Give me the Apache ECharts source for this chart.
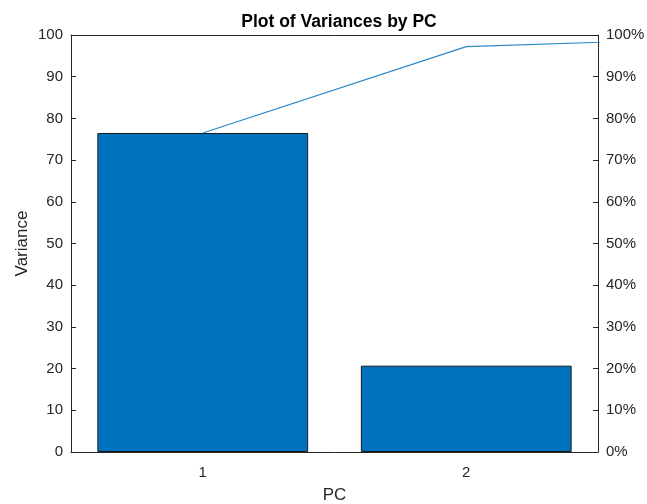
<!DOCTYPE html>
<html>
<head>
<meta charset="utf-8">
<script src="https://cdn.jsdelivr.net/npm/echarts@6/dist/echarts.min.js"></script>
<style>html,body{margin:0;padding:0;background:#fff}#c{width:647px;height:504px}</style>
</head>
<body>
<div id="c"></div>
<script>
// Principal components and their explained variance (%)
const pcLabels = ['1', '2'];
const variance = [76.5, 20.7];
// Cumulative explained variance (%) per component, the third continues past the axis edge
const cumulativePc = [1, 2, 3];
const cumulative = [76.5, 97.2, 99.3];
const leftTicks = [0, 100, 10];

const ink = '#262626';
const font = 'Liberation Sans, Arial, Helvetica, sans-serif';

const chart = echarts.init(document.getElementById('c'), null, { renderer: 'canvas' });
chart.setOption({
  backgroundColor: '#fff',
  animation: false,
  title: {
    text: 'Plot of Variances by PC',
    left: 334, top: 8, textAlign: 'center',
    textStyle: { fontFamily: font, fontSize: 17.5, fontWeight: 'bold', color: '#000' }
  },
  grid: { left: 71, right: 49, top: 35, bottom: 52, containLabel: false, outerBoundsMode: 'none' },
  xAxis: [
    {
      type: 'category', data: pcLabels, position: 'bottom',
      name: 'PC', nameLocation: 'middle', nameGap: 35,
      nameTextStyle: { fontFamily: font, fontSize: 17, color: ink },
      axisLine: { lineStyle: { color: ink, width: 1 } },
      axisTick: { inside: true, alignWithLabel: true, length: 4, lineStyle: { color: ink } },
      axisLabel: { fontFamily: font, fontSize: 15, color: ink, margin: 13 },
      splitLine: { show: false }
    },
    {
      type: 'value', min: 0.5, max: 2.5, show: false
    },
    {
      type: 'category', data: pcLabels, position: 'top',
      axisLine: { lineStyle: { color: ink, width: 1 } },
      axisTick: { inside: true, alignWithLabel: true, length: 4, lineStyle: { color: ink } },
      axisLabel: { show: false },
      splitLine: { show: false }
    }
  ],
  yAxis: [
    {
      type: 'value', min: leftTicks[0], max: leftTicks[1], interval: leftTicks[2],
      name: 'Variance', nameLocation: 'middle', nameGap: 40, nameRotate: 90,
      nameMoveOverlap: false,
      nameTextStyle: { fontFamily: font, fontSize: 17, color: ink },
      axisLine: { show: true, lineStyle: { color: ink, width: 1 } },
      axisTick: { show: true, inside: true, length: 5, lineStyle: { color: ink } },
      axisLabel: { fontFamily: font, fontSize: 15, color: ink, margin: 8 },
      splitLine: { show: false }
    },
    {
      type: 'value', min: 0, max: 100, interval: 10, position: 'right',
      axisLine: { show: true, lineStyle: { color: ink, width: 1 } },
      axisTick: { show: true, inside: true, length: 5, lineStyle: { color: ink } },
      axisLabel: { fontFamily: font, fontSize: 15, color: ink, margin: 8, formatter: '{value}%' },
      splitLine: { show: false }
    }
  ],
  series: [
    {
      type: 'bar', xAxisIndex: 0, yAxisIndex: 0,
      data: variance, barWidth: '80%',
      itemStyle: { color: '#0072BD', borderColor: '#1a1a1a', borderWidth: 1 }
    },
    {
      type: 'line', xAxisIndex: 1, yAxisIndex: 1,
      data: cumulativePc.map((p, i) => [p, cumulative[i]]),
      clip: true, showSymbol: false, symbol: 'none',
      lineStyle: { color: '#2a87c8', width: 1.2 }
    }
  ]
});
</script>
</body>
</html>
